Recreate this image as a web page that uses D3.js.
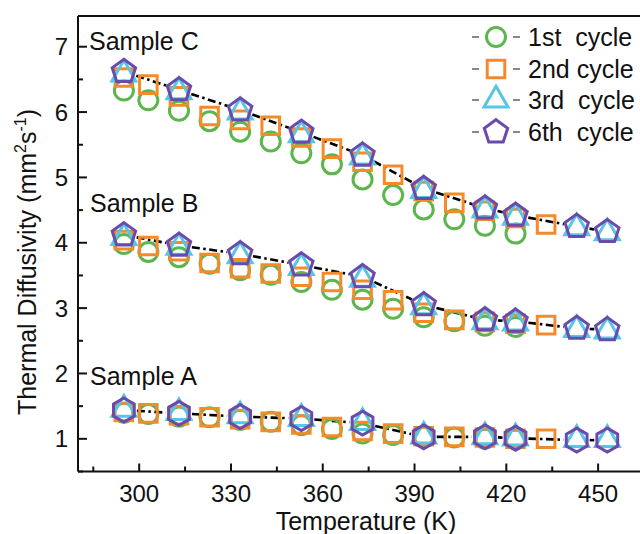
<!DOCTYPE html>
<html><head><meta charset="utf-8">
<script src="https://cdn.jsdelivr.net/npm/d3@7"></script>
<style>body{margin:0;background:#fff}svg text{font-family:"Liberation Sans",Arial,sans-serif;fill:#111}</style>
</head><body><svg id="c" width="640" height="534"></svg>
<script>
// ---- data ----
const temps1 = [295,303,313,323,333,343,353,363,373,383,393,403,413,423];
const temps2 = [295,303,313,323,333,343,353,363,373,383,393,403,413,423,433];
const temps36 = [295,313,333,353,373,393,413,423,443,453];

const cycleNames = ["1st  cycle","2nd cycle","3rd  cycle","6th  cycle"];
const sampleNames = ["Sample A","Sample B","Sample C"];

const sampleC_1 = [6.33,6.18,6.02,5.86,5.70,5.55,5.37,5.20,4.97,4.73,4.51,4.36,4.26,4.14];
const sampleC_2 = [6.53,6.42,6.24,5.94,5.88,5.79,5.61,5.44,5.24,5.04,4.79,4.61,4.49,4.38,4.28];
const sampleC_3 = [6.58,6.31,6.00,5.65,5.31,4.80,4.50,4.39,4.23,4.15];
const sampleC_6 = [6.62,6.34,6.03,5.69,5.34,4.83,4.53,4.42,4.25,4.17];

const sampleB_1 = [3.98,3.86,3.78,3.68,3.58,3.51,3.40,3.28,3.13,2.99,2.86,2.80,2.73,2.71];
const sampleB_2 = [4.04,3.95,3.87,3.69,3.61,3.53,3.48,3.40,3.28,3.12,2.93,2.82,2.79,2.76,2.74];
const sampleB_3 = [4.08,3.93,3.80,3.62,3.44,3.02,2.79,2.77,2.67,2.65];
const sampleB_6 = [4.12,3.96,3.83,3.66,3.48,3.05,2.82,2.80,2.69,2.67];

const sampleA_1 = [1.40,1.38,1.34,1.33,1.29,1.26,1.21,1.15,1.08,1.06,1.03,1.02,1.00,0.99];
const sampleA_2 = [1.41,1.39,1.36,1.33,1.30,1.26,1.22,1.18,1.12,1.08,1.04,1.03,1.02,1.00,1.00];
const sampleA_3 = [1.45,1.40,1.35,1.31,1.25,1.04,1.03,1.01,0.99,0.99];
const sampleA_6 = [1.44,1.39,1.34,1.31,1.24,1.03,1.03,1.01,0.98,0.98];

const xTicks = [300,330,360,390,420,450];
const xMinor = [285,315,345,375,405,435,465];
const yTicks = [1,2,3,4,5,6,7];
const yMinor = [0.5,1.5,2.5,3.5,4.5,5.5,6.5];

const colors = ["#5DB54E","#F38B2A","#55C6E4","#6B4AAE"];

// ---- scales ----
const svg = d3.select("#c");
const x = d3.scaleLinear().domain([280,465]).range([78,644]);
const y = d3.scaleLinear().domain([0.5,7.47]).range([471.5,16]);

const zip = (t,v)=>t.map((d,i)=>[d,v[i]]);
const samples = [
  {name:"Sample C", s:[zip(temps1,sampleC_1),zip(temps2,sampleC_2),zip(temps36,sampleC_3),zip(temps36,sampleC_6)], hex:false, label:[89,50]},
  {name:"Sample B", s:[zip(temps1,sampleB_1),zip(temps2,sampleB_2),zip(temps36,sampleB_3),zip(temps36,sampleB_6)], hex:false, label:[90,212]},
  {name:"Sample A", s:[zip(temps1,sampleA_1),zip(temps2,sampleA_2),zip(temps36,sampleA_3),zip(temps36,sampleA_6)], hex:true, label:[90,385]}
];

function poly(n, r, rot){
  const pts=[];
  for(let i=0;i<n;i++){const a=rot+i*2*Math.PI/n; pts.push([r*Math.sin(a), -r*Math.cos(a)]);}
  return "M"+pts.map(p=>p[0].toFixed(2)+","+p[1].toFixed(2)).join("L")+"Z";
}
function shapePath(k, hex){
  if(k===0) return d3.symbol().type(d3.symbolCircle).size(Math.PI*9.5*9.5)();
  if(k===1) return "M-8.8,-8.8H8.8V8.8H-8.8Z";
  if(k===2) return poly(3,13.8,0);
  return hex ? poly(6,12,0) : poly(5,12.3,0);
}

// ---- frame ----
const g = svg.append("g");
g.append("line").attr("x1",x(280)).attr("x2",x(465)).attr("y1",y(7.47)).attr("y2",y(7.47)).attr("stroke","#111").attr("stroke-width",2);
g.append("line").attr("x1",x(280)).attr("x2",x(465)).attr("y1",y(0.5)).attr("y2",y(0.5)).attr("stroke","#111").attr("stroke-width",2);
g.append("line").attr("x1",x(280)).attr("x2",x(280)).attr("y1",y(0.5)).attr("y2",y(7.47)).attr("stroke","#111").attr("stroke-width",2);

g.selectAll(".xt").data(xTicks).join("line").attr("x1",d=>x(d)).attr("x2",d=>x(d)).attr("y1",y(0.5)).attr("y2",y(0.5)-8).attr("stroke","#111").attr("stroke-width",2);
g.selectAll(".xm").data(xMinor).join("line").attr("x1",d=>x(d)).attr("x2",d=>x(d)).attr("y1",y(0.5)).attr("y2",y(0.5)-5).attr("stroke","#111").attr("stroke-width",2);
g.selectAll(".yt").data(yTicks).join("line").attr("x1",x(280)).attr("x2",x(280)+9).attr("y1",d=>y(d)).attr("y2",d=>y(d)).attr("stroke","#111").attr("stroke-width",2);
g.selectAll(".ym").data(yMinor).join("line").attr("x1",x(280)).attr("x2",x(280)+5).attr("y1",d=>y(d)).attr("y2",d=>y(d)).attr("stroke","#111").attr("stroke-width",2);

g.selectAll(".xl").data(xTicks).join("text").attr("x",d=>x(d)).attr("y",502).attr("text-anchor","middle").attr("font-size",24).text(d=>d);
g.selectAll(".yl").data(yTicks).join("text").attr("x",68).attr("y",d=>y(d)+8.5).attr("text-anchor","end").attr("font-size",24).text(d=>d);

g.append("text").attr("x",366).attr("y",530).attr("text-anchor","middle").attr("font-size",25).text("Temperature (K)");
const yt = g.append("text").attr("transform","translate(36,262) rotate(-90)").attr("text-anchor","middle").attr("font-size",25);
yt.append("tspan").text("Thermal Diffusivity (mm");
yt.append("tspan").attr("dy",-10).attr("font-size",16).text("2");
yt.append("tspan").attr("dy",10).text("s");
yt.append("tspan").attr("dy",-10).attr("font-size",16).text("-1");
yt.append("tspan").attr("dy",10).text(")");

// ---- dash-dot trend lines (through 6th cycle, gap to symbol) ----
const gap = 13;
samples.forEach(sm=>{
  const pts = sm.s[3].map(d=>[x(d[0]),y(d[1])]);
  for(let i=0;i<pts.length-1;i++){
    const [x0,y0]=pts[i],[x1,y1]=pts[i+1];
    const L=Math.hypot(x1-x0,y1-y0); if(L<=2*gap) continue;
    const ux=(x1-x0)/L, uy=(y1-y0)/L;
    g.append("line").attr("x1",x0+ux*gap).attr("y1",y0+uy*gap).attr("x2",x1-ux*gap).attr("y2",y1-uy*gap)
      .attr("stroke","#000").attr("stroke-width",2.6).attr("stroke-dasharray","8,3.5,2.5,3.5");
  }
});

// ---- markers ----
for(let k=0;k<4;k++){
  samples.forEach(sm=>{
    g.selectAll(null).data(sm.s[k]).join("path")
      .attr("d",shapePath(k,sm.hex))
      .attr("transform",d=>`translate(${x(d[0])},${y(d[1])})`)
      .attr("fill","none").attr("stroke",colors[k]).attr("stroke-width",3);
  });
}

// sample labels
samples.forEach(sm=>{
  g.append("text").attr("x",sm.label[0]).attr("y",sm.label[1]).attr("font-size",25).text(sm.name);
});

// ---- legend ----
const legY = [37,69,100,132];
cycleNames.forEach((nm,k)=>{
  const lg = g.append("g").attr("transform",`translate(496,${legY[k]})`);
  lg.append("line").attr("x1",-24).attr("x2",-17).attr("stroke","#888").attr("stroke-width",2);
  lg.append("line").attr("x1",17).attr("x2",24).attr("stroke","#888").attr("stroke-width",2);
  lg.append("path").attr("d",shapePath(k,false)).attr("fill","none").attr("stroke",colors[k]).attr("stroke-width",3);
  lg.append("text").attr("x",32).attr("y",8.5).attr("font-size",25).style("white-space","pre").text(nm);
});
</script></body></html>
